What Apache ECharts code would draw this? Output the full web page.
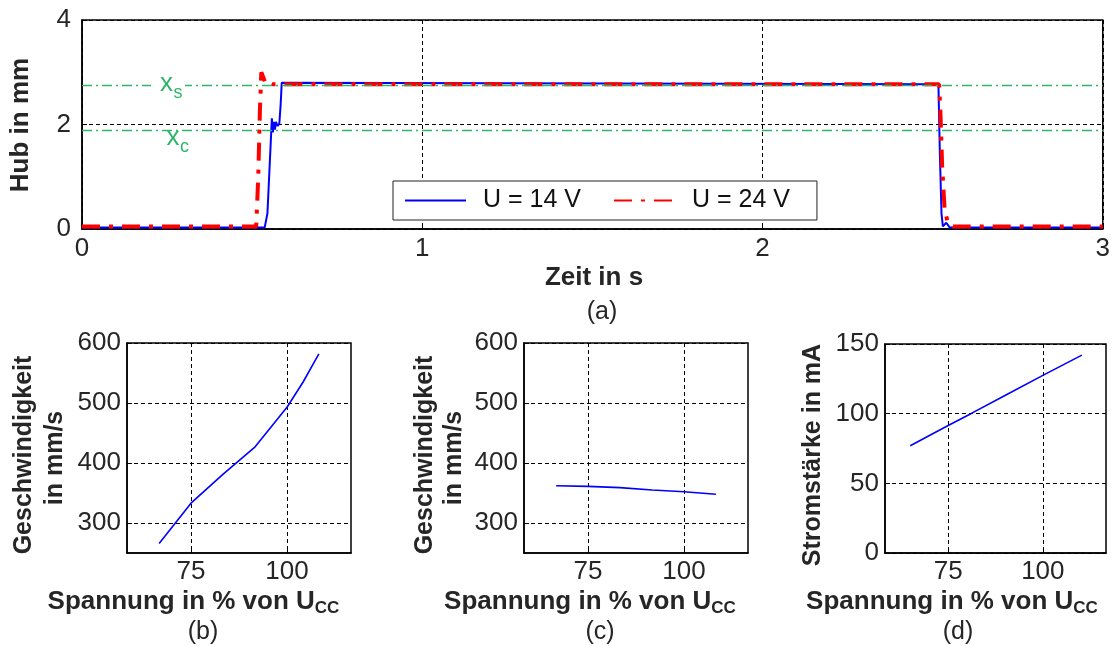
<!DOCTYPE html>
<html><head><meta charset="utf-8">
<script src="https://cdn.jsdelivr.net/npm/echarts@6/dist/echarts.min.js"></script>
<style>html,body{margin:0;padding:0;background:#fff}#c{width:1113px;height:646px}</style>
</head><body><div id="c"></div>
<script>
// ---------- data ----------
// (a) Hub over time [t in s, Hub in mm]
const hub14V = [[0,0.03],[0.537,0.03],[0.545,0.3],[0.55,1.0],[0.555,1.7],[0.558,2.12],[0.561,1.85],[0.564,2.05],[0.567,1.9],[0.57,2.05],[0.575,1.97],[0.58,2.02],[0.584,2.4],[0.587,2.8],[0.59,2.77],[2.517,2.77],[2.521,1.5],[2.526,0.3],[2.53,0.05],[2.54,0.12],[2.55,0.03],[3,0.03]];
const hub24V = [[0,0.05],[0.512,0.05],[0.518,1.0],[0.523,2.3],[0.527,3.0],[0.533,2.9],[0.54,2.78],[0.55,2.8],[0.56,2.77],[2.519,2.77],[2.523,2.2],[2.528,1.2],[2.535,0.4],[2.545,0.1],[2.56,0.05],[3,0.05]];
const refLevels = [2.75, 1.89];            // x_s, x_c
const seriesNames = ['U = 14 V', 'U = 24 V'];
// (b)
const pctB = [66.7, 75, 83.3, 91.7, 100, 104.2, 108.3];
const speedB = [266, 333, 381, 427, 493, 535, 582];
// (c)
const pctC = [66.7, 75, 83.3, 91.7, 100, 108.3];
const speedC = [362, 361, 359, 355, 352, 348];
// (d)
const pctD = [65, 75, 81, 90, 100, 110.3];
const currentD = [77, 91.5, 100, 113, 127.5, 142];
// ticks
const pctTicks = [75, 100];
const speedTicks = [300, 400, 500, 600];

// ---------- chart ----------
const FONT = "'Liberation Sans', Arial, sans-serif";
const TXT = '#262626';
const GREEN = '#2fb56a';
const zip = (a, b) => a.map((v, i) => [v, b[i]]);

const chart = echarts.init(document.getElementById('c'), null, {renderer: 'canvas'});

const gridCommon = {show: true, borderColor: '#000', borderWidth: 1.5, backgroundColor: 'transparent'};
const dashed = {show: true, lineStyle: {color: '#000', type: [4, 3], width: 1}};
const axLabel = {color: TXT, fontSize: 26, fontFamily: FONT};
const axLine = {show: true, lineStyle: {color: '#000', width: 1.5}};
const axTick = {show: true, inside: true, length: 5, lineStyle: {color: '#000'}};

function pctAxis(gi) {
  return {type: 'value', gridIndex: gi, min: 58.33, max: 116.67,
    axisLine: axLine, axisTick: Object.assign({customValues: pctTicks}, axTick),
    axisLabel: Object.assign({customValues: pctTicks, margin: 6}, axLabel),
    splitLine: dashed};
}
function speedAxis(gi) {
  return {type: 'value', gridIndex: gi, min: 250, max: 600,
    axisLine: axLine, axisTick: Object.assign({customValues: speedTicks}, axTick),
    axisLabel: Object.assign({customValues: speedTicks, margin: 6}, axLabel),
    splitLine: dashed};
}

function txt(x, y, text, size, bold, extra, color) {
  return Object.assign({type: 'text', x: x, y: y, z: 100,
    style: {text: text, fontSize: size, fontWeight: bold ? 'bold' : 'normal', fontFamily: FONT,
      fill: color || TXT, align: 'center', verticalAlign: 'middle'}}, extra || {});
}
function richTitle(x, y) {
  return {type: 'text', x: x, y: y, z: 100,
    style: {text: '{m|Spannung in % von U}{s|CC}', fontFamily: FONT, fill: TXT, align: 'center', verticalAlign: 'middle',
      rich: {m: {fontSize: 26, fontWeight: 'bold', fontFamily: FONT, fill: TXT},
             s: {fontSize: 17, fontWeight: 'bold', fontFamily: FONT, fill: TXT, padding: [13, 0, 0, 0]}}}};
}
const ROT = Math.PI / 2;

const option = {
  animation: false,
  backgroundColor: '#fff',
  grid: [
    Object.assign({left: 82, top: 20, width: 1021, height: 209}, gridCommon),
    Object.assign({left: 127, top: 343, width: 224, height: 210}, gridCommon),
    Object.assign({left: 524, top: 343, width: 224, height: 210}, gridCommon),
    Object.assign({left: 885, top: 344, width: 221, height: 209}, gridCommon)
  ],
  xAxis: [
    {type: 'value', gridIndex: 0, min: 0, max: 3, interval: 1, axisLine: axLine, axisTick: axTick,
      axisLabel: Object.assign({margin: 7}, axLabel), splitLine: dashed},
    pctAxis(1), pctAxis(2), pctAxis(3)
  ],
  yAxis: [
    {type: 'value', gridIndex: 0, min: 0, max: 4, interval: 2, axisLine: axLine, axisTick: axTick,
      axisLabel: Object.assign({margin: 11}, axLabel), splitLine: dashed},
    speedAxis(1), speedAxis(2),
    {type: 'value', gridIndex: 3, min: 0, max: 150, interval: 50, axisLine: axLine, axisTick: axTick,
      axisLabel: Object.assign({margin: 6}, axLabel), splitLine: dashed}
  ],
  legend: {
    data: seriesNames, left: 393, top: 181, orient: 'horizontal',
    backgroundColor: '#fff', borderColor: '#222', borderWidth: 1,
    padding: [7, 27, 7, 11], itemWidth: 61, itemHeight: 14, itemGap: 32,
    itemStyle: {opacity: 0, borderWidth: 0},
    textStyle: {fontSize: 25, fontFamily: FONT, color: '#111', padding: [0, 0, 0, 12]},
    selectedMode: false
  },
  series: [
    {type: 'line', name: 'refs', xAxisIndex: 0, yAxisIndex: 0, data: [], silent: true,
      markLine: {silent: true, symbol: 'none', label: {show: false},
        lineStyle: {color: GREEN, type: [10, 4, 2, 4], width: 1.3},
        data: refLevels.map(v => ({yAxis: v}))}},
    {type: 'line', name: seriesNames[0], xAxisIndex: 0, yAxisIndex: 0, data: hub14V, symbol: 'none',
      lineStyle: {color: '#0000ff', width: 2}, itemStyle: {color: '#0000ff'}, z: 3},
    {type: 'line', name: seriesNames[1], xAxisIndex: 0, yAxisIndex: 0, data: hub24V, symbol: 'none',
      lineStyle: {color: '#ff0000', width: 4, type: [18, 9, 4, 9]}, itemStyle: {color: '#ff0000'}, z: 4},
    {type: 'line', xAxisIndex: 1, yAxisIndex: 1, data: zip(pctB, speedB), symbol: 'none',
      lineStyle: {color: '#0000ff', width: 1.6}},
    {type: 'line', xAxisIndex: 2, yAxisIndex: 2, data: zip(pctC, speedC), symbol: 'none',
      lineStyle: {color: '#0000ff', width: 1.6}},
    {type: 'line', xAxisIndex: 3, yAxisIndex: 3, data: zip(pctD, currentD), symbol: 'none',
      lineStyle: {color: '#0000ff', width: 1.6}}
  ],
  graphic: [
    // reference labels
    {type: 'rect', z: 99, shape: {x: 151, y: 80, width: 34, height: 9}, style: {fill: '#fff'}},
    txt(166.5, 83.5, 'x', 26, false, {}, GREEN),
    txt(178, 93, 's', 18, false, {}, GREEN),
    txt(173, 137.5, 'x', 26, false, {}, GREEN),
    txt(184.5, 147, 'c', 18, false, {}, GREEN),
    // (a)
    txt(21, 125, 'Hub in mm', 26, true, {rotation: ROT}),
    txt(594, 278, 'Zeit in s', 26, true),
    txt(602, 312, '(a)', 25, false),
    // (b)
    txt(24, 455, 'Geschwindigkeit', 25, true, {rotation: ROT}),
    txt(55, 458, 'in mm/s', 25, true, {rotation: ROT}),
    richTitle(193.5, 602),
    txt(203, 632, '(b)', 25, false),
    // (c)
    txt(425, 455, 'Geschwindigkeit', 25, true, {rotation: ROT}),
    txt(454, 458, 'in mm/s', 25, true, {rotation: ROT}),
    richTitle(590, 602),
    txt(600, 632, '(c)', 25, false),
    // (d)
    txt(813, 455, 'Stromstärke in mA', 25, true, {rotation: ROT}),
    richTitle(952, 602),
    txt(958, 632, '(d)', 25, false)
  ]
};
chart.setOption(option);
</script>
</body></html>
